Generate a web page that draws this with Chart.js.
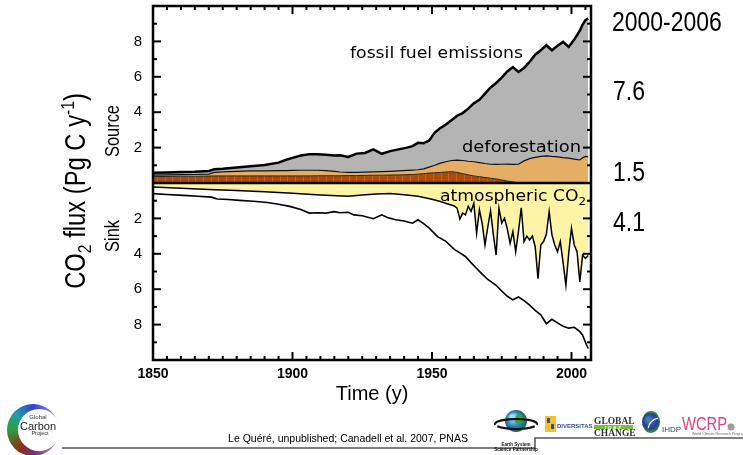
<!DOCTYPE html>
<html><head><meta charset="utf-8">
<script src="https://cdn.jsdelivr.net/npm/chart.js@4.4.1/dist/chart.umd.min.js"></script>
<style>html,body{margin:0;padding:0;background:#fff;}#wrap{width:743px;height:455px;position:relative;}</style>
</head><body><div id="wrap"><canvas id="c" width="743" height="455"></canvas></div>
<script>
// ---------- DATA ----------
const sourceYears = [1850,1855,1860,1865,1870,1872,1875,1880,1885,1890,1895,1898,1900,1903,1906,1909,1912,1915,1917,1920,1923,1926,1929,1932,1935,1938,1941,1943,1945,1947,1949,1951,1953,1955,1957,1959,1961,1963,1965,1967,1969,1971,1973,1975,1977,1979,1981,1983,1985,1987,1989,1991,1993,1995,1997,1999,2001,2003,2004,2005,2006];
// top of the grey area (fossil fuel + deforestation)
const totalEmissions = [0.58,0.6,0.62,0.63,0.68,0.78,0.8,0.88,0.95,1.02,1.15,1.33,1.42,1.55,1.62,1.63,1.6,1.55,1.57,1.47,1.66,1.7,1.9,1.65,1.8,1.9,2.0,2.08,2.27,2.25,2.4,2.85,3.1,3.3,3.55,3.8,3.95,4.2,4.5,4.7,5.05,5.4,5.65,5.95,6.3,6.55,6.27,6.5,6.85,7.25,7.5,7.78,7.5,7.75,7.97,7.69,8.1,8.6,8.95,9.2,9.3];
// top of the tan area (deforestation)
const deforestationTop = [0.45,0.46,0.47,0.48,0.5,0.6,0.63,0.66,0.68,0.69,0.7,0.7,0.71,0.72,0.72,0.72,0.7,0.66,0.62,0.6,0.6,0.61,0.63,0.64,0.66,0.68,0.71,0.73,0.75,0.8,0.9,1.0,1.12,1.2,1.27,1.29,1.27,1.23,1.2,1.15,1.1,1.06,1.05,1.06,1.07,1.05,1.06,1.25,1.38,1.45,1.5,1.53,1.5,1.48,1.43,1.4,1.35,1.3,1.42,1.5,1.48];
// top of the dark brown band
const deforestationCore = [0.36,0.37,0.38,0.38,0.39,0.4,0.4,0.4,0.4,0.4,0.4,0.4,0.4,0.4,0.4,0.41,0.41,0.41,0.41,0.42,0.42,0.43,0.44,0.44,0.45,0.46,0.47,0.48,0.5,0.53,0.56,0.58,0.6,0.62,0.64,0.6,0.53,0.46,0.4,0.36,0.31,0.27,0.23,0.17,0.11,0.06,0.01,0,0,0,0,0,0,0,0,0,0,0,0,0,0];

const atmYears = [1850,1860,1870,1880,1890,1900,1910,1920,1925,1930,1935,1940,1945,1950,1953,1956,1958,1959,1960,1961,1962,1963,1964,1965,1966,1967,1968,1969,1970,1971,1972,1973,1974,1975,1976,1977,1978,1979,1980,1981,1982,1983,1984,1985,1986,1987,1988,1989,1990,1991,1992,1993,1994,1995,1996,1997,1998,1999,2000,2001,2002,2003,2004,2005,2006];
const atmosphericCO2 = [-0.23,-0.3,-0.37,-0.43,-0.5,-0.58,-0.68,-0.75,-0.68,-0.62,-0.6,-0.66,-0.75,-0.92,-1.05,-1.2,-1.3,-1.42,-2.04,-1.7,-1.8,-1.32,-1.6,-1.14,-2.84,-1.51,-2.3,-3.5,-2.5,-1.57,-2.93,-4.07,-1.42,-2.27,-1.99,-2.6,-3.41,-2.74,-3.88,-2.74,-1.4,-3.31,-3.0,-3.22,-3.0,-3.6,-5.4,-3.5,-3.31,-2.9,-1.61,-2.93,-3.5,-3.88,-3.31,-4.5,-5.78,-4.0,-2.56,-3.5,-3.88,-5.59,-4.07,-4.26,-4.1];

const sinkYears = [1850,1855,1861,1866,1871,1873,1877,1881,1886,1891,1895,1899,1903,1906,1909,1912,1915,1917,1920,1922,1925,1929,1932,1934,1937,1940,1943,1945,1947,1949,1952,1955,1958,1960,1962,1964,1966,1968,1970,1973,1975,1977,1979,1981,1983,1985,1987,1989,1991,1993,1995,1997,1999,2001,2003,2004,2005,2006];
const totalSink = [-0.6,-0.65,-0.7,-0.75,-0.8,-0.9,-0.93,-0.98,-1.03,-1.1,-1.2,-1.32,-1.5,-1.7,-1.68,-1.7,-1.62,-1.68,-1.65,-1.8,-1.85,-2.02,-1.8,-1.95,-2.08,-2.15,-2.27,-2.08,-2.3,-2.55,-3.03,-3.3,-3.75,-3.95,-4.15,-4.5,-4.83,-5.15,-5.45,-5.78,-6.1,-6.4,-6.6,-6.44,-6.65,-6.9,-7.2,-7.45,-7.95,-7.7,-7.9,-8.1,-8.2,-8.15,-8.4,-8.6,-9.0,-9.35];

const xTickLabels = [1850,1900,1950,2000];
const yTickValues = [-8,-6,-4,-2,2,4,6,8];
const summaryPeriod = '2000-2006';
const summaryValues = ['7.6','1.5','4.1'];

// ---------- helpers ----------
const pts = (xs, ys) => xs.map((x, i) => ({x: x, y: ys[i]}));
const canvas = document.getElementById('c');
const mainCtx = canvas.getContext('2d');
const brownPattern = (() => {
  const c = document.createElement('canvas'); c.width = 23; c.height = 4;
  const g = c.getContext('2d');
  g.fillStyle = '#b04a04'; g.fillRect(0, 0, 23, 4);
  g.fillStyle = '#c0622a'; g.fillRect(4, 0, 1, 4); g.fillRect(11, 0, 1, 4); g.fillRect(19, 0, 1, 4);
  return mainCtx.createPattern(c, 'repeat');
})();

function textAt(ctx, s, x, y, font, o) {
  o = o || {};
  ctx.save();
  ctx.font = font; ctx.fillStyle = o.color || '#000';
  ctx.translate(x, y);
  if (o.rot) ctx.rotate(o.rot);
  ctx.scale(o.sx || 1, 1);
  ctx.textAlign = o.align || 'left';
  ctx.textBaseline = 'alphabetic';
  ctx.fillText(s, 0, 0);
  ctx.restore();
}
// rich text: parts [{t, font, dy}]; fits to width w if given
function richText(ctx, parts, x, y, o) {
  o = o || {};
  ctx.save();
  let total = 0;
  parts.forEach(p => { ctx.font = p.font; p.w = ctx.measureText(p.t).width; total += p.w; });
  const sx = o.width ? o.width / total : (o.sx || 1);
  ctx.translate(x, y);
  if (o.rot) ctx.rotate(o.rot);
  ctx.scale(sx, 1);
  let cx = o.align === 'center' ? -total / 2 : 0;
  ctx.fillStyle = o.color || '#000';
  ctx.textBaseline = 'alphabetic';
  parts.forEach(p => { ctx.font = p.font; ctx.fillText(p.t, cx, p.dy || 0); cx += p.w; });
  ctx.restore();
}
function seg(ctx, x1, y1, x2, y2) { ctx.beginPath(); ctx.moveTo(x1, y1); ctx.lineTo(x2, y2); ctx.stroke(); }

const NARROW = 0.82;
const SANS = '"Liberation Sans", Arial, sans-serif';
const HAND = '"DejaVu Sans", sans-serif';

const framePlugin = {
  id: 'frame',
  afterDatasetsDraw(chart) {
    const ctx = chart.ctx, a = chart.chartArea, sx = chart.scales.x, sy = chart.scales.y;
    ctx.save();
    ctx.strokeStyle = '#000';
    // zero line
    ctx.lineWidth = 2.5;
    const y0 = sy.getPixelForValue(0);
    seg(ctx, a.left, y0, a.right, y0);
    // ticks (inward)
    ctx.lineWidth = 2;
    for (let v = -9; v <= 9; v++) {
      if (v === 0) continue;
      const py = sy.getPixelForValue(v), L = v % 2 === 0 ? 8 : 4;
      seg(ctx, a.left, py, a.left + L, py);
      seg(ctx, a.right, py, a.right - L, py);
    }
    for (let yr = 1855; yr <= 2005; yr += 5) {
      const px = sx.getPixelForValue(yr), L = yr % 50 === 0 ? 8 : 4;
      seg(ctx, px, a.bottom, px, a.bottom - L);
      seg(ctx, px, a.top, px, a.top + L);
    }
    // frame
    ctx.lineWidth = 2.5;
    ctx.strokeRect(a.left, a.top, a.right - a.left, a.bottom - a.top);
    ctx.restore();

    // in-plot labels
    richText(ctx, [{t: 'fossil fuel emissions', font: '16px ' + HAND}], 350, 58, {width: 173});
    richText(ctx, [{t: 'deforestation', font: '16px ' + HAND}], 462, 152, {width: 119});
    richText(ctx, [{t: 'atmospheric CO', font: '16px ' + HAND}, {t: '2', font: '11px ' + HAND, dy: 4}], 440, 201, {width: 146});
  },
  afterDraw(chart) {
    const ctx = chart.ctx;
    // right-hand summary
    textAt(ctx, summaryPeriod, 612, 31, '28px ' + SANS, {sx: NARROW});
    textAt(ctx, summaryValues[0], 613, 100, '28px ' + SANS, {sx: NARROW});
    textAt(ctx, summaryValues[1], 613, 181, '28px ' + SANS, {sx: NARROW});
    textAt(ctx, summaryValues[2], 613, 231, '28px ' + SANS, {sx: NARROW});
    // axis titles
    textAt(ctx, 'Time (y)', 372, 400, '20px ' + SANS, {align: 'center'});
    const big = '29px ' + SANS, small = '19px ' + SANS;
    richText(ctx, [
      {t: 'CO', font: big}, {t: '2', font: small, dy: 6},
      {t: ' flux (Pg C y', font: big}, {t: '-1', font: small, dy: -11}, {t: ')', font: big}
    ], 85, 191, {rot: -Math.PI / 2, sx: NARROW, align: 'center'});
    textAt(ctx, 'Source', 119, 131, '20px ' + SANS, {rot: -Math.PI / 2, sx: NARROW, align: 'center'});
    textAt(ctx, 'Sink', 119, 236, '20px ' + SANS, {rot: -Math.PI / 2, sx: NARROW, align: 'center'});

    // citation + rules
    textAt(ctx, 'Le Quéré, unpublished; Canadell et al. 2007, PNAS', 348, 442, '10.5px ' + SANS, {align: 'center'});
    ctx.save();
    ctx.strokeStyle = '#555'; ctx.lineWidth = 1.5;
    ctx.beginPath(); ctx.moveTo(62, 448); ctx.lineTo(535, 448); ctx.lineTo(535, 438); ctx.lineTo(743, 438); ctx.stroke();
    ctx.restore();

    // Global Carbon Project logo
    ctx.save();
    let grad;
    if (ctx.createConicGradient) {
      grad = ctx.createConicGradient(0, 33, 430);
      grad.addColorStop(0.0, '#c8c4f2');
      grad.addColorStop(0.12, '#a878c8');
      grad.addColorStop(0.25, '#7a2a70');
      grad.addColorStop(0.36, '#8c3414');
      grad.addColorStop(0.5, '#2f9c3c');
      grad.addColorStop(0.62, '#1f9ea8');
      grad.addColorStop(0.75, '#3440d4');
      grad.addColorStop(0.88, '#8a86ea');
      grad.addColorStop(1.0, '#c8c4f2');
    } else grad = '#4a60c0';
    ctx.fillStyle = grad;
    ctx.beginPath(); ctx.arc(33, 430, 26, 0, Math.PI * 2); ctx.fill();
    ctx.fillStyle = '#fff';
    ctx.beginPath(); ctx.arc(39, 430, 21, 0, Math.PI * 2); ctx.fill();
    ctx.restore();
    textAt(ctx, 'Global', 38, 419, '6px ' + SANS, {align: 'center', color: '#333'});
    textAt(ctx, 'Carbon', 38, 430, '11px ' + SANS, {align: 'center', color: '#222'});
    textAt(ctx, 'Project', 40, 435, '5.5px ' + SANS, {align: 'center', color: '#333'});

    // ESSP globe
    ctx.save();
    const gg = ctx.createRadialGradient(512, 417, 2, 516, 421, 12);
    gg.addColorStop(0, '#9fe0ff'); gg.addColorStop(0.5, '#2a8ac0'); gg.addColorStop(1, '#1a5a30');
    ctx.fillStyle = gg; ctx.beginPath(); ctx.arc(516, 421, 11, 0, Math.PI * 2); ctx.fill();
    ctx.fillStyle = '#3aa040'; ctx.beginPath(); ctx.ellipse(519, 419, 4, 5, 0.4, 0, Math.PI * 2); ctx.fill();
    ctx.strokeStyle = '#111'; ctx.lineWidth = 2.2;
    ctx.beginPath(); ctx.ellipse(516, 424, 21, 5, 0, 0.15 * Math.PI, 0.85 * Math.PI); ctx.stroke();
    ctx.beginPath(); ctx.ellipse(516, 424, 21, 5, 0, 0.95 * Math.PI, 2.05 * Math.PI); ctx.stroke();
    ctx.restore();
    textAt(ctx, 'Earth System', 516, 446, 'bold 4.5px ' + SANS, {align: 'center', color: '#111'});
    textAt(ctx, 'Science Partnership', 516, 451, 'bold 4.5px ' + SANS, {align: 'center', color: '#111'});

    // DIVERSITAS
    ctx.save();
    ctx.fillStyle = '#f2c230'; ctx.fillRect(545, 416, 11, 16);
    ctx.fillStyle = '#2c4fa0'; ctx.fillRect(547, 418, 3, 5); ctx.fillRect(551, 424, 3, 5);
    ctx.restore();
    textAt(ctx, 'DIVERSITAS', 557, 428, 'bold 6px ' + SANS, {color: '#2c4fa0'});

    // GLOBAL IGBP CHANGE
    textAt(ctx, 'GLOBAL', 594, 424, 'bold 10px "Liberation Serif", serif', {color: '#333', sx: 0.95});
    ctx.save(); ctx.fillStyle = '#7bbf3a'; ctx.fillRect(594, 425, 39, 4); ctx.restore();
    textAt(ctx, 'I  G  B  P', 613, 428.5, 'bold 4px ' + SANS, {align: 'center', color: '#fff'});
    textAt(ctx, 'CHANGE', 594, 436, 'bold 10px "Liberation Serif", serif', {color: '#333', sx: 0.95});

    // IHDP
    ctx.save();
    const ig = ctx.createRadialGradient(648, 419, 1, 651, 422, 10);
    ig.addColorStop(0, '#4a7fc8'); ig.addColorStop(0.7, '#1f3f88'); ig.addColorStop(1, '#3f8a4a');
    ctx.fillStyle = ig; ctx.beginPath(); ctx.ellipse(651, 422, 9, 11, 0, 0, Math.PI * 2); ctx.fill();
    ctx.strokeStyle = '#fff'; ctx.lineWidth = 1.2;
    ctx.beginPath(); ctx.arc(660, 430, 12, Math.PI * 1.05, Math.PI * 1.45); ctx.stroke();
    ctx.restore();
    textAt(ctx, 'IHDP', 662, 432, '8px ' + SANS, {color: '#2a3f8a'});

    // WCRP
    textAt(ctx, 'WCRP', 682, 430, '18px ' + SANS, {color: '#e2408e', sx: NARROW});
    ctx.save(); ctx.fillStyle = '#a09a90'; ctx.beginPath(); ctx.arc(731, 427, 3.5, 0, Math.PI * 2); ctx.fill(); ctx.restore();
    textAt(ctx, 'World Climate Research Programme', 692, 434.5, '3.6px ' + SANS, {color: '#666'});
  }
};

new Chart(mainCtx, {
  type: 'line',
  data: {
    datasets: [
      {label: 'fossil fuel emissions', data: pts(sourceYears, totalEmissions), borderColor: '#000', borderWidth: 2.5, backgroundColor: '#b4b4b4', fill: '+1'},
      {label: 'deforestation', data: pts(sourceYears, deforestationTop), borderColor: '#111', borderWidth: 1.2, backgroundColor: '#e6ae64', fill: '+1'},
      {label: 'deforestation core', data: pts(sourceYears, deforestationCore), borderColor: '#222', borderWidth: 1, backgroundColor: brownPattern, fill: 'origin'},
      {label: 'atmospheric CO2', data: pts(atmYears, atmosphericCO2), borderColor: '#000', borderWidth: 1.5, backgroundColor: '#fff4a6', fill: 'origin'},
      {label: 'total sink', data: pts(sinkYears, totalSink), borderColor: '#000', borderWidth: 1.6, fill: false}
    ]
  },
  options: {
    responsive: false, animation: false, devicePixelRatio: 1,
    layout: {padding: {top: 6, right: 152, left: 0, bottom: 0}},
    elements: {line: {tension: 0}, point: {radius: 0}},
    plugins: {legend: {display: false}, tooltip: {enabled: false}, filler: {drawTime: 'beforeDatasetsDraw'}},
    scales: {
      x: {
        type: 'linear', min: 1850, max: 2007, position: 'bottom',
        afterBuildTicks: s => { s.ticks = xTickLabels.map(v => ({value: v})); },
        afterFit: s => { s.height = 95; s.paddingLeft = 0; s.paddingRight = 0; },
        grid: {display: false, drawTicks: false}, border: {display: false},
        ticks: {padding: 6, color: '#000', autoSkip: false, maxRotation: 0,
          font: {family: SANS, size: 14, weight: 'bold'}, callback: v => String(v)}
      },
      y: {
        type: 'linear', min: -10, max: 10, position: 'left',
        afterBuildTicks: s => { s.ticks = yTickValues.map(v => ({value: v})); },
        afterFit: s => { s.width = 153; s.paddingTop = 0; s.paddingBottom = 0; },
        grid: {display: false, drawTicks: false}, border: {display: false},
        ticks: {padding: 11, color: '#000', font: {family: SANS, size: 15}, callback: v => String(Math.abs(v))}
      }
    }
  },
  plugins: [framePlugin]
});
</script></body></html>
